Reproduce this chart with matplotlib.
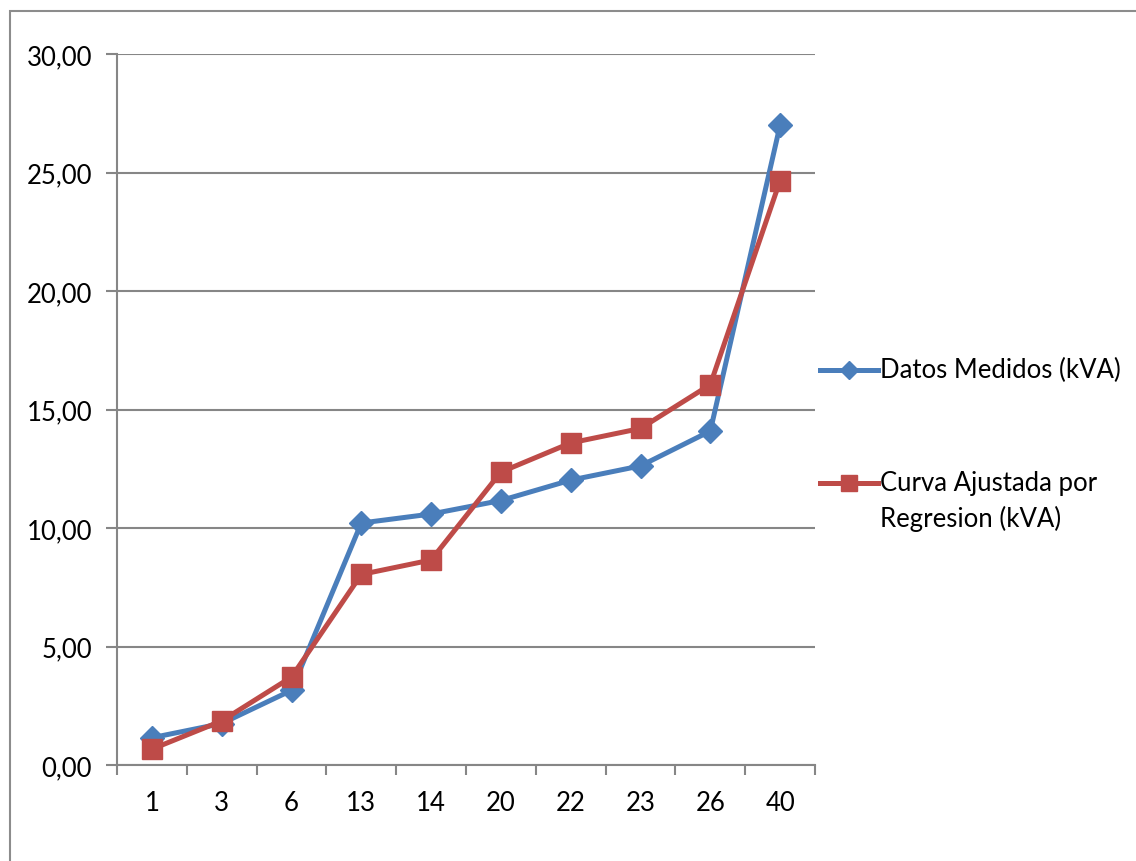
import matplotlib
matplotlib.use("Agg")
import matplotlib.pyplot as plt
from matplotlib.patches import Rectangle
from matplotlib.lines import Line2D
from matplotlib.ticker import FixedLocator, FuncFormatter
import numpy as np

categories = ["1", "3", "6", "13", "14", "20", "22", "23", "26", "40"]
medidos = [1.15, 1.75, 3.15, 10.21, 10.59, 11.16, 12.02, 12.62, 14.09, 27.00]
ajustada = [0.67, 1.86, 3.71, 8.04, 8.65, 12.36, 13.59, 14.20, 16.05, 24.66]
series_labels = ["Datos Medidos (kVA)", "Curva Ajustada por\nRegresion (kVA)"]

blue = "#4A7EBB"
red = "#BE4B48"
grid_gray = "#868686"

plt.rcParams["font.family"] = ["Lato", "DejaVu Sans"]

W, H = 1136, 862
fig = plt.figure(figsize=(W / 100, H / 100), dpi=100)
ax = fig.add_axes([117 / W, 1 - 766 / H, (815 - 117) / W, (766 - 55) / H])

x = np.arange(len(categories))
styles = [dict(color=blue, marker="D", markersize=12),
          dict(color=red, marker="s", markersize=14.5)]
for vals, st, z in zip([medidos, ajustada], styles, [3, 4]):
    ax.plot(x, vals, lw=3.6, zorder=z, **st)

ax.set_xlim(-0.5, len(categories) - 0.5)
ax.set_ylim(0, 30)
ax.set_yticks(np.arange(0, 31, 5))
ax.yaxis.set_major_formatter(FuncFormatter(lambda v, p: f"{v:.2f}".replace(".", ",")))
ax.set_xticks(x)
ax.set_xticklabels(categories)
ax.xaxis.set_minor_locator(FixedLocator(np.arange(-0.5, len(categories), 1.0)))

ax.grid(axis="y", color=grid_gray, lw=1.5)
ax.set_axisbelow(True)
for s in ("top", "right"):
    ax.spines[s].set_visible(False)
for s in ("left", "bottom"):
    ax.spines[s].set_color(grid_gray)
    ax.spines[s].set_linewidth(1.5)

ax.tick_params(axis="y", length=8, width=1.5, color=grid_gray, labelsize=18.5, pad=10)
ax.tick_params(axis="x", which="major", length=0, labelsize=18.5, pad=18)
ax.tick_params(axis="x", which="minor", length=7, width=1.5, color=grid_gray)

# legend: handle aligned with the first text line of each entry
legend_rows = [371, 484]
for label, st, y in zip(series_labels, styles, legend_rows):
    yf = 1 - y / H
    fig.add_artist(Line2D([820 / W, 878 / W], [yf, yf], lw=3.6,
                          color=st["color"], transform=fig.transFigure))
    fig.add_artist(Line2D([849 / W], [yf], lw=0, marker=st["marker"],
                          markersize=st["markersize"] * 0.8, color=st["color"],
                          transform=fig.transFigure))
    fig.text(880 / W, yf + 13 / H, label, fontsize=18.5, va="top", ha="left",
             linespacing=1.45, transform=fig.transFigure)

# outer chart frame, cut off at the right and bottom edges
fig.patches.append(Rectangle((10 / W, -0.1), 1.2, 1 - 12 / H + 0.1,
                             transform=fig.transFigure, fill=False,
                             edgecolor="#8C8C8C", lw=1.5, clip_on=False))

fig.savefig("out.png", dpi=100)
